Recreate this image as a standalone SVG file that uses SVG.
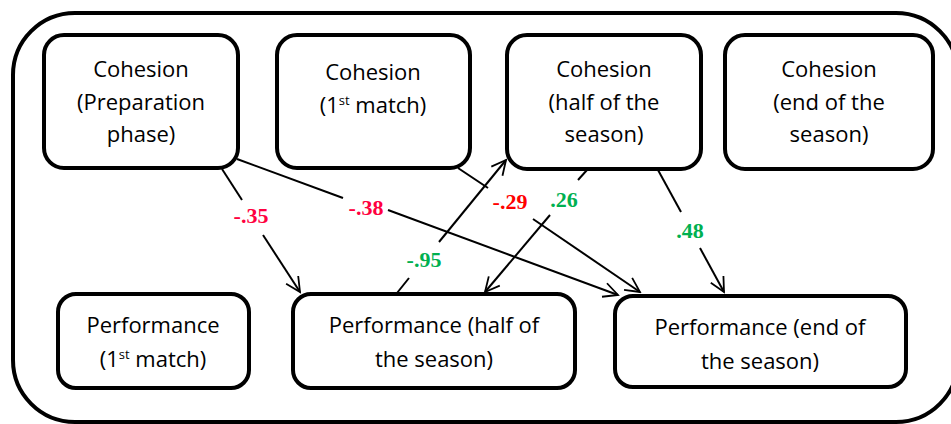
<svg xmlns="http://www.w3.org/2000/svg" width="951" height="424" viewBox="0 0 951 424">
<defs>
<style>
.frame{fill:none;stroke:#000;stroke-width:4}
.box{fill:#fff;stroke:#000;stroke-width:4}
.t{font-family:"Open Sans","Liberation Sans",sans-serif;font-size:22px;fill:#000;text-anchor:middle}
.sup{font-size:13px}
.e{fill:none;stroke:#000;stroke-width:2}
.lbl{font-family:"Liberation Serif","Times New Roman",serif;font-size:22px;font-weight:bold;text-anchor:middle}
.red{fill:#ff0040}
.red2{fill:#ff0000}
.green{fill:#00b050}
</style>
<marker id="arr" viewBox="0 0 20 20" refX="18" refY="10" markerWidth="18" markerHeight="18" markerUnits="userSpaceOnUse" orient="auto">
<path d="M2,2 L18,10 L2,18" fill="none" stroke="#000" stroke-width="2"/>
</marker>
</defs>
<rect class="frame" x="13" y="13" width="945" height="409" rx="62" ry="62"/>
<g id="edges">
<path class="e" d="M222,169 L242,200"/>
<path class="e" d="M263,235 L300,292" marker-end="url(#arr)"/>
<path class="e" d="M237,159 L343,198"/>
<path class="e" d="M388,210 L618,295" marker-end="url(#arr)"/>
<path class="e" d="M458,168 L488,188"/>
<path class="e" d="M533,219 L640,292" marker-end="url(#arr)"/>
<path class="e" d="M397,293 L409,278"/>
<path class="e" d="M439,242 L506,160" marker-end="url(#arr)"/>
<path class="e" d="M587,170 L578,180"/>
<path class="e" d="M550,215 L485,292" marker-end="url(#arr)"/>
<path class="e" d="M658,170 L681,212"/>
<path class="e" d="M700,248 L724,292" marker-end="url(#arr)"/>
</g>
<g id="labels">
<text class="lbl red" x="251" y="223">-.35</text>
<text class="lbl red" x="366" y="215">-.38</text>
<text class="lbl red2" x="510" y="209">-.29</text>
<text class="lbl green" x="564" y="207">.26</text>
<text class="lbl green" x="690" y="238">.48</text>
<text class="lbl green" x="424" y="267">-.95</text>
</g>
<g id="c1">
<rect class="box" x="44" y="35" width="194" height="133" rx="20"/>
<text class="t" x="141" y="77">Cohesion</text>
<text class="t" x="141" y="110">(Preparation</text>
<text class="t" x="141" y="142">phase)</text>
</g>
<g id="c2">
<rect class="box" x="277" y="35" width="193" height="133" rx="20"/>
<text class="t" x="373" y="80">Cohesion</text>
<text class="t" x="373" y="113">(1<tspan class="sup" dy="-8">st</tspan><tspan dy="8"> match)</tspan></text>
</g>
<g id="c3">
<rect class="box" x="507" y="35" width="194" height="134" rx="20"/>
<text class="t" x="604" y="77">Cohesion</text>
<text class="t" x="604" y="110">(half of the</text>
<text class="t" x="604" y="142">season)</text>
</g>
<g id="c4">
<rect class="box" x="725" y="35" width="208" height="134" rx="20"/>
<text class="t" x="829" y="77">Cohesion</text>
<text class="t" x="829" y="110">(end of the</text>
<text class="t" x="829" y="142">season)</text>
</g>
<g id="p1">
<rect class="box" x="58" y="294" width="191" height="94" rx="18"/>
<text class="t" x="153" y="333">Performance</text>
<text class="t" x="153" y="367">(1<tspan class="sup" dy="-8">st</tspan><tspan dy="8"> match)</tspan></text>
</g>
<g id="p2">
<rect class="box" x="293" y="294" width="282" height="94" rx="18"/>
<text class="t" x="434" y="333">Performance (half of</text>
<text class="t" x="434" y="367">the season)</text>
</g>
<g id="p3">
<rect class="box" x="615" y="296" width="291" height="91" rx="18"/>
<text class="t" x="760" y="335">Performance (end of</text>
<text class="t" x="760" y="369">the season)</text>
</g>
</svg>
